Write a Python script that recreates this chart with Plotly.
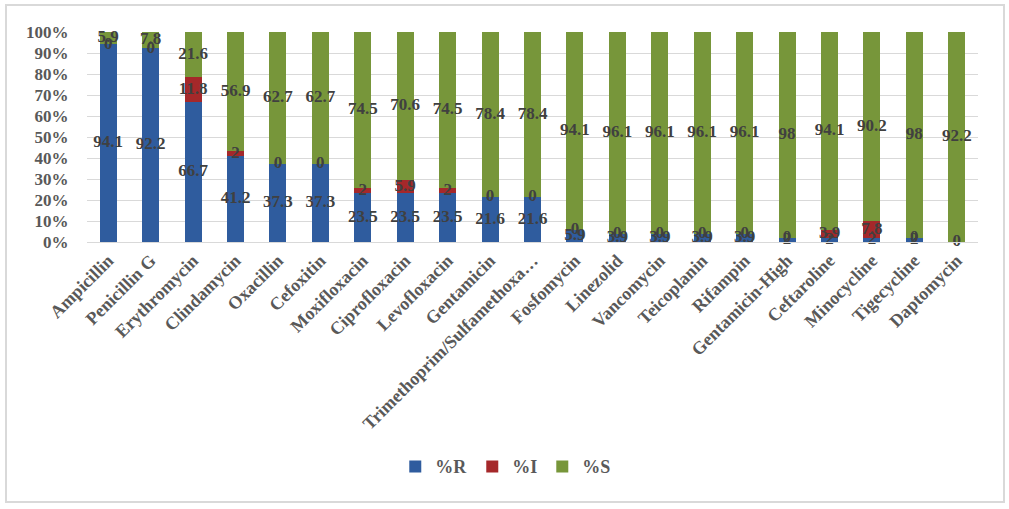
import plotly.graph_objects as go

categories = ["Ampicillin", "Penicillin G", "Erythromycin", "Clindamycin", "Oxacillin", "Cefoxitin",
              "Moxifloxacin", "Ciprofloxacin", "Levofloxacin", "Gentamicin",
              "Trimethoprim/Sulfamethoxa…", "Fosfomycin", "Linezolid", "Vancomycin", "Teicoplanin",
              "Rifampin", "Gentamicin-High", "Ceftaroline", "Minocycline", "Tigecycline", "Daptomycin"]
pct_R = [94.1, 92.2, 66.7, 41.2, 37.3, 37.3, 23.5, 23.5, 23.5, 21.6, 21.6, 5.9, 3.9, 3.9, 3.9, 3.9, 2, 2, 2, 2, 0]
pct_I = [0, 0, 11.8, 2, 0, 0, 2, 5.9, 2, 0, 0, 0, 0, 0, 0, 0, 0, 3.9, 7.8, 0, None]
pct_S = [5.9, 7.8, 21.6, 56.9, 62.7, 62.7, 74.5, 70.6, 74.5, 78.4, 78.4, 94.1, 96.1, 96.1, 96.1, 96.1, 98, 94.1, 90.2, 98, 92.2]

colors = {"%R": "#2f5c9e", "%I": "#a5282a", "%S": "#77963a"}
serif = "Liberation Serif"

fig = go.Figure()
series = [("%R", pct_R), ("%I", pct_I), ("%S", pct_S)]
for name, vals in series:
    fig.add_trace(go.Bar(x=categories, y=[v if v is not None else 0 for v in vals], name=name,
                         marker=dict(color=colors[name], line=dict(width=0)), hoverinfo="skip"))

# data labels at segment centres (computed from normalised stack)
for idx, (name, vals) in enumerate(series):
    xs, ys, ts = [], [], []
    for i, c in enumerate(categories):
        if vals[i] is None:
            continue
        tot = sum((s[1][i] or 0) for s in series)
        base = sum((series[k][1][i] or 0) for k in range(idx))
        ys.append((base + vals[i] / 2) / tot * 100)
        xs.append(c)
        ts.append(f"{vals[i]:g}")
    fig.add_trace(go.Scatter(x=xs, y=ys, text=ts, mode="text", showlegend=False, hoverinfo="skip",
                             textfont=dict(family=serif, size=17, color="#404040", weight="bold"),
                             cliponaxis=False))

fig.update_layout(
    barmode="stack", barnorm="percent", bargap=0.6,
    width=1009, height=509,
    margin=dict(l=87, r=31, t=32, b=267, autoexpand=False),
    paper_bgcolor="white", plot_bgcolor="white",
    font=dict(family=serif, color="#595959"),
    legend=dict(orientation="h", x=0.47, xanchor="center", y=-1.07, yanchor="middle",
                font=dict(family=serif, size=18, color="#595959", weight="bold"),
                itemwidth=30, traceorder="normal"),
    xaxis=dict(tickangle=-45, tickfont=dict(family=serif, size=18, color="#595959", weight="bold"),
               range=[-0.5, len(categories) - 0.5],
               showline=True, linecolor="#d9d9d9", ticks="", automargin=False),
    yaxis=dict(range=[0, 100], dtick=10, ticksuffix="%", showgrid=True, gridcolor="#d9d9d9",
               zeroline=False, automargin=False, ticks="outside", ticklen=14, tickcolor="rgba(0,0,0,0)",
               tickfont=dict(family=serif, size=17, color="#595959", weight="bold")),
    shapes=[dict(type="rect", xref="paper", yref="paper",
                 x0=(6 - 87) / 891, x1=(1004 - 87) / 891, y0=(242 - 502) / 210, y1=(242 - 5) / 210,
                 line=dict(color="#d9d9d9", width=2), fillcolor="rgba(0,0,0,0)", layer="below")],
)

fig.write_html("out.html", config={"displayModeBar": False},
               post_script="document.body.style.margin='0';document.body.style.overflow='hidden';")
